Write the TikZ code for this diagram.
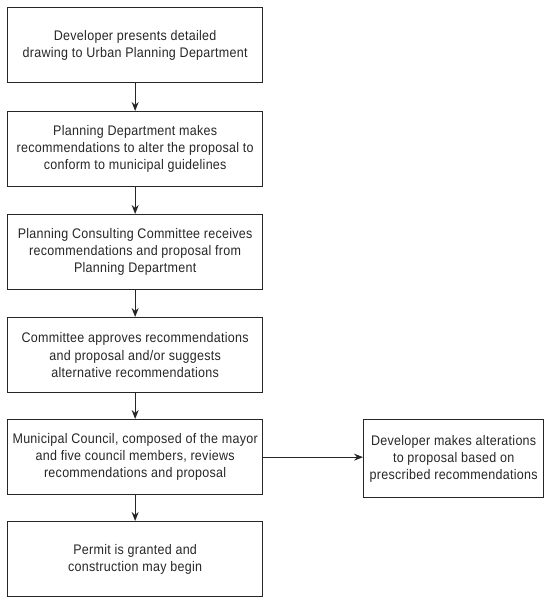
\documentclass[tikz,border=0pt]{standalone}
\usepackage{fontspec}
\setmainfont{Liberation Sans}[FakeStretch=0.9,LetterSpace=2]
\usetikzlibrary{arrows.meta}
\begin{document}
\begin{tikzpicture}[x=1pt,y=1pt,
  stepbox/.style={draw=black!85,line width=1.3pt,minimum width=255pt,minimum height=75pt,align=center,inner sep=1pt,font=\fontsize{13.9}{17.2}\selectfont,text=black!85,anchor=north west},
  sidebox/.style={stepbox,minimum width=180pt,minimum height=78pt},
  conn/.style={draw=black!85,line width=1.1pt,-{Stealth[length=9pt,width=7pt]}}]
\useasboundingbox (0,0) rectangle (550,-607);
\node[stepbox] (a) at (7,-7) {Developer presents detailed\\drawing to Urban Planning Department};
\node[stepbox] (b) at (7,-111) {Planning Department makes\\recommendations to alter the proposal to\\conform to municipal guidelines};
\node[stepbox] (c) at (7,-214) {Planning Consulting Committee receives\\recommendations and proposal from\\Planning Department};
\node[stepbox] (d) at (7,-317) {Committee approves recommendations\\and proposal and/or suggests\\alternative recommendations};
\node[stepbox] (e) at (7,-419) {Municipal Council, composed of the mayor\\and five council members, reviews\\recommendations and proposal};
\node[stepbox] (f) at (7,-521) {Permit is granted and\\construction may begin};
\node[sidebox] (g) at (363,-419) {Developer makes alterations\\to proposal based on\\prescribed recommendations};
\draw[conn] (a) -- (b);
\draw[conn] (b) -- (c);
\draw[conn] (c) -- (d);
\draw[conn] (d) -- (e);
\draw[conn] (e) -- (f);
\draw[conn] (e.east) -- (g.west |- e.east);
\end{tikzpicture}
\end{document}
